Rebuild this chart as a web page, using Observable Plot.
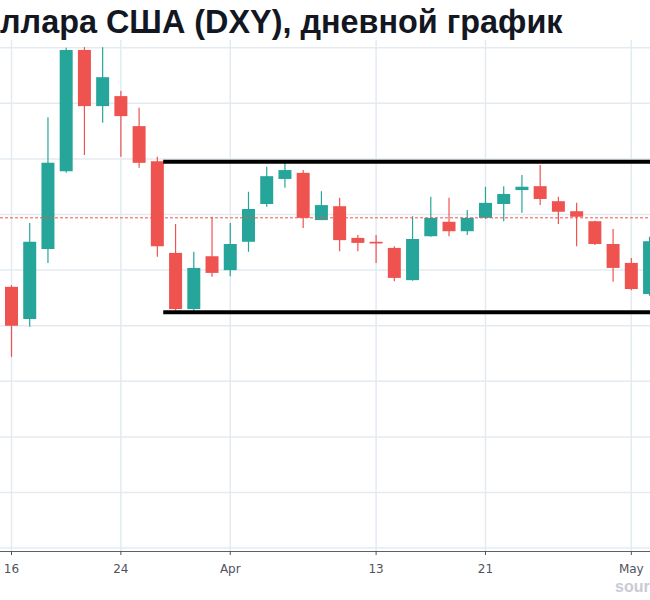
<!DOCTYPE html>
<html><head><meta charset="utf-8">
<script src="https://cdn.jsdelivr.net/npm/d3@7"></script>
<script src="https://cdn.jsdelivr.net/npm/@observablehq/plot@0.6"></script>
<style>
html,body{margin:0;padding:0;background:#fff;width:650px;height:600px;overflow:hidden;}
#wrap{position:relative;width:650px;height:600px;overflow:hidden;}
#title{height:40px;box-sizing:border-box;padding-top:6px;font:bold 32.4px/32px "Liberation Sans",Arial,sans-serif;color:#131722;white-space:nowrap;}
#chart svg{display:block;}
#src{position:absolute;left:615px;top:579px;font:bold 16px/16px "Liberation Sans",Arial,sans-serif;color:#c9cbd1;white-space:nowrap;}
</style></head><body>
<div id="wrap"><div id="title">ллара США (DXY), дневной график</div><div id="chart"></div><div id="src">sour</div></div>
<script>
// trading days (x axis is by bar)
const dates = ["2020-03-16","2020-03-17","2020-03-18","2020-03-19","2020-03-20",
  "2020-03-23","2020-03-24","2020-03-25","2020-03-26","2020-03-27",
  "2020-03-30","2020-03-31","2020-04-01","2020-04-02","2020-04-03",
  "2020-04-06","2020-04-07","2020-04-08","2020-04-09","2020-04-10",
  "2020-04-13","2020-04-14","2020-04-15","2020-04-16","2020-04-17",
  "2020-04-20","2020-04-21","2020-04-22","2020-04-23","2020-04-24",
  "2020-04-27","2020-04-28","2020-04-29","2020-04-30","2020-05-01","2020-05-04"];
const open  = [98.69,98.11,99.37,100.77,102.95,101.94,102.12,101.58,100.95,99.30,
  98.29,99.24,98.99,99.50,100.18,100.63,100.74,99.89,100.14,99.57,
  99.50,99.39,98.81,99.60,99.86,99.69,99.93,100.18,100.43,100.50,
  100.23,100.05,99.87,99.46,99.12,98.56];
const high  = [98.72,99.84,101.74,102.99,103.00,103.00,102.21,101.91,101.03,99.82,
  99.32,99.95,99.84,100.40,100.85,100.92,100.79,100.41,100.29,99.62,
  99.62,99.42,99.96,100.31,100.29,100.07,100.49,100.50,100.70,100.88,
  100.31,100.20,99.88,99.73,99.21,99.59];
const low   = [97.43,97.97,99.12,100.74,101.06,101.64,101.03,100.83,99.23,98.26,
  98.26,98.87,98.88,99.32,100.13,100.47,99.75,99.89,99.33,99.33,
  99.12,98.79,98.80,99.59,99.60,99.62,99.91,99.87,100.02,100.16,
  99.82,99.42,99.44,98.78,98.63,98.53];
const close = [97.99,99.50,100.92,102.95,101.94,102.46,101.76,100.92,99.42,98.29,
  99.03,98.94,99.46,100.09,100.68,100.79,99.93,100.16,99.53,99.48,
  99.47,98.85,99.55,99.93,99.69,99.93,100.20,100.36,100.49,100.27,
  100.04,99.95,99.46,99.03,98.65,99.51];

const tickDates  = ["2020-03-16","2020-03-24","2020-04-01","2020-04-13","2020-04-21","2020-05-01"];
const tickLabels = ["16","24","Apr","13","21","May"];
const gridValues = [94,95,96,97,98,99,100,101,102,103];
const rangeLevels = [100.95, 98.24];   // horizontal range (channel) lines
const rangeStartBar = 8.35;            // channel starts just after the Mar 26 bar
const lastPrice = [99.94];             // current price line

const UP = "#26a69a", DOWN = "#ef5350";
const bars = dates.map((d, i) => ({
  i, date: d, open: open[i], high: high[i], low: low[i], close: close[i],
  color: close[i] >= open[i] ? UP : DOWN
}));
const tickIdx = tickDates.map(d => dates.indexOf(d));
const labelOf = new Map(tickIdx.map((t, k) => [t, tickLabels[k]]));

const barStep = 18.23, firstX = 11, W = 650;
const xDomain = [-firstX / barStep, (W - firstX) / barStep];
const yDomain = [93.939, 103.129];

const chart = Plot.plot({
  width: W, height: 560,
  marginLeft: 0, marginRight: 0, marginTop: 0, marginBottom: 49,
  x: {type: "linear", domain: xDomain, axis: null, label: null},
  y: {domain: yDomain, axis: null, label: null},
  style: {background: "#fff"},
  marks: [
    Plot.gridX(tickIdx, {stroke: "#e3ebf1", strokeOpacity: 1, strokeWidth: 1.5}),
    Plot.gridY(gridValues, {stroke: "#e3ebf1", strokeOpacity: 1, strokeWidth: 1.5}),
    Plot.ruleX(bars, {x: "i", y1: "low", y2: "high", stroke: "color", strokeWidth: 1.2, clip: true}),
    Plot.ruleX(bars, {x: "i", y1: "open", y2: "close", stroke: "color", strokeWidth: 13, clip: true}),
    Plot.ruleY(lastPrice, {stroke: DOWN, strokeWidth: 1, strokeDasharray: "3,2"}),
    Plot.ruleY(rangeLevels, {x1: rangeStartBar, x2: 40, stroke: "#000", strokeWidth: 4, clip: true}),
    Plot.ruleY([yDomain[0]], {stroke: "#5d606b", strokeWidth: 1.2}),
    Plot.axisX(tickIdx, {
      tickFormat: d => labelOf.get(d), tickSize: 4, tickPadding: 9, label: null,
      fontSize: 12, fontFamily: "DejaVu Sans, sans-serif", color: "#50535e", stroke: "#50535e"
    })
  ]
});
document.getElementById("chart").appendChild(chart);
</script>
</body></html>
